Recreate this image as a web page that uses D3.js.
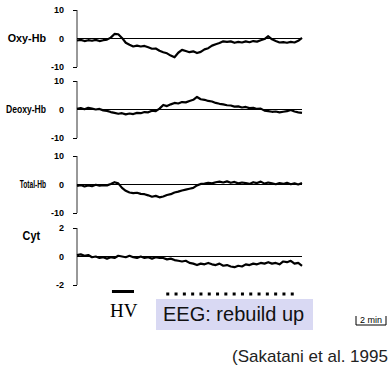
<!DOCTYPE html>
<html>
<head>
<meta charset="utf-8">
<script src="https://cdn.jsdelivr.net/npm/d3@7"></script>
<style>
  body { margin: 0; background: #fff; }
  svg { display: block; }
  .lab { font-family: "Liberation Sans", Arial, sans-serif; font-weight: bold; font-size: 9px; fill: #000; }
  .name { font-family: "Liberation Sans", Arial, sans-serif; font-weight: bold; font-size: 11px; fill: #000; }
</style>
</head>
<body>
<div id="chart"></div>
<script>
// time in minutes, one sample every 0.25 min
const times = d3.range(61).map(i => i * 0.25);

const oxyHb = [-0.7, -0.5, -0.9, -0.6, -0.8, -0.5, -0.9, -0.6, -0.4, 0.3, 1.6, 1.5, 0.2, -1.5, -2.2, -2.8,
  -2.5, -2.8, -2.6, -3.1, -3.6, -3.5, -4.3, -4.8, -5.2, -6.0, -6.6, -5.0, -4.0, -4.4, -4.8, -4.5,
  -5.1, -4.7, -3.8, -3.4, -2.5, -2.0, -1.6, -1.0, -1.2, -1.0, -1.5, -1.2, -1.4, -1.0, -1.3, -0.9,
  -1.1, -0.6, -0.2, 0.8, -0.3, -0.9, -1.4, -1.3, -1.5, -1.2, -1.4, -0.8, 0.2];

const deoxyHb = [0.2, 0.5, 0.1, 0.6, 0.3, 0.0, 0.2, -0.3, -0.5, -0.9, -1.2, -1.5, -1.3, -1.7, -1.4, -1.6,
  -1.2, -1.3, -0.9, -1.0, -0.4, -0.6, 0.3, 1.6, 1.2, 1.8, 2.3, 2.1, 2.6, 2.5, 3.0, 3.4,
  4.4, 3.6, 3.4, 3.0, 2.8, 2.3, 2.0, 1.8, 1.5, 1.4, 1.0, 1.1, 0.7, 0.9, 0.5, 0.6,
  0.2, 0.3, -0.4, -0.6, -0.8, -0.7, -1.0, -0.8, -0.6, -0.2, -0.7, -1.0, -1.2];

const totalHb = [-0.5, -0.2, -0.7, -0.3, -0.6, -0.1, -0.4, -0.2, -0.3, 0.2, 0.8, 0.4, -1.2, -2.2, -2.8, -3.0,
  -2.9, -3.3, -3.4, -3.8, -4.3, -4.0, -4.5, -4.2, -3.7, -3.4, -2.8, -2.5, -2.1, -1.8, -1.5, -1.2,
  -0.3, 0.2, 0.3, 0.6, 0.4, 0.8, 1.0, 0.7, 1.1, 0.6, 0.9, 0.4, 0.7, 0.5, 0.2, 0.8,
  0.5, 1.0, 0.3, 0.7, 0.4, 0.1, 0.5, 0.2, 0.6, 0.1, 0.4, 0.0, 0.5];

const cyt = [0.1, 0.15, 0.05, 0.1, -0.05, 0.0, -0.1, -0.05, -0.15, -0.05, -0.1, 0.05, 0.0, -0.05, 0.05, -0.05,
  -0.1, 0.0, -0.1, -0.05, -0.15, -0.05, -0.1, -0.1, -0.2, -0.15, -0.25, -0.3, -0.35, -0.3, -0.45, -0.5,
  -0.6, -0.5, -0.55, -0.45, -0.55, -0.6, -0.5, -0.65, -0.6, -0.7, -0.75, -0.65, -0.7, -0.55, -0.6, -0.5,
  -0.55, -0.45, -0.5, -0.4, -0.5, -0.45, -0.55, -0.35, -0.4, -0.3, -0.5, -0.45, -0.65];

const panelNames = ['Oxy-Hb', 'Deoxy-Hb', 'Total-Hb', 'Cyt'];
const panelSeries = [oxyHb, deoxyHb, totalHb, cyt];
const panelRanges = [10, 10, 10, 2];
const panelTicks = [['10', '0', '-10'], ['10', '0', '-10'], ['10', '0', '-10'], ['2', '0', '-2']];

const hvPeriod = [2.33, 3.8];     // minutes
const eegPeriod = [5.95, 14.8];   // minutes
const scaleBarMinutes = 2;

const width = 389, height = 379;
const svg = d3.select('#chart').append('svg')
  .attr('width', width)
  .attr('height', height);

const x = d3.scaleLinear().domain([0, 15]).range([77, 302]);
const panelTop = [10, 81, 156, 228];
const panelH = 57;
const nameSquash = [0.98, 0.78, 0.6, 0.9]; // horizontal squeeze of the panel names

const line = d3.line().x((d, i) => x(times[i])).y(d => d);

panelSeries.forEach((series, p) => {
  const r = panelRanges[p];
  const y = d3.scaleLinear().domain([-r, r]).range([panelTop[p] + panelH, panelTop[p]]);
  const g = svg.append('g');

  // y axis: plain vertical line with end stubs
  const axis = d3.axisLeft(y).tickValues([-r, r]).tickSize(4).tickFormat('');
  g.append('g').attr('transform', `translate(${x(0)},0)`).call(axis)
    .call(a => a.select('.domain').remove())
    .call(a => a.selectAll('line').attr('stroke', '#000'));
  g.append('line')
    .attr('x1', x(0)).attr('x2', x(0))
    .attr('y1', y(r)).attr('y2', y(-r))
    .attr('stroke', '#333').attr('stroke-width', 1);

  // zero reference line
  g.append('line')
    .attr('x1', x(0)).attr('x2', x(15))
    .attr('y1', y(0)).attr('y2', y(0))
    .attr('stroke', '#000').attr('stroke-width', 1.2);

  // tick labels
  [r, 0, -r].forEach((v, k) => {
    g.append('text').attr('class', 'lab')
      .attr('x', 64).attr('y', y(v) + 3)
      .attr('text-anchor', 'end')
      .text(panelTicks[p][k]);
  });

  // panel name
  const nx = p === 3 ? 40 : 46;
  const ny = (p === 3 ? y(0) - 20 : y(0)) + 3;
  g.append('text').attr('class', 'name')
    .attr('transform', `translate(${nx},${ny}) scale(${nameSquash[p]},1)`)
    .attr('text-anchor', 'end')
    .style('font-size', p === 3 ? '12px' : null)
    .text(panelNames[p]);

  // trace
  g.append('path')
    .datum(series.map(v => y(v)))
    .attr('d', line)
    .attr('fill', 'none')
    .attr('stroke', '#000')
    .attr('stroke-width', 2.2)
    .attr('stroke-linejoin', 'round');
});

// HV bar
svg.append('line')
  .attr('x1', x(hvPeriod[0])).attr('x2', x(hvPeriod[1]))
  .attr('y1', 291.5).attr('y2', 291.5)
  .attr('stroke', '#000').attr('stroke-width', 3);
svg.append('text')
  .attr('x', 110).attr('y', 317)
  .style('font-family', '"Liberation Serif", "Times New Roman", serif')
  .style('font-size', '19px')
  .text('HV');

// EEG dotted bar
svg.append('line')
  .attr('x1', x(eegPeriod[0])).attr('x2', x(eegPeriod[1]))
  .attr('y1', 294).attr('y2', 294)
  .attr('stroke', '#000').attr('stroke-width', 3)
  .attr('stroke-dasharray', '3,5.3');

svg.append('rect')
  .attr('x', 156).attr('y', 299)
  .attr('width', 157).attr('height', 31)
  .attr('fill', '#d9d9f3');
svg.append('text')
  .attr('x', 163).attr('y', 321)
  .style('font-family', '"Liberation Sans", Arial, sans-serif')
  .style('font-size', '20px')
  .attr('fill', '#111')
  .text('EEG: rebuild up');

// 2 min scale bar
const sbX = 356, sbW = x(scaleBarMinutes) - x(0);
svg.append('path')
  .attr('d', `M${sbX},316V325H${sbX + sbW}V316`)
  .attr('fill', 'none').attr('stroke', '#000').attr('stroke-width', 1);
svg.append('text')
  .attr('x', sbX + sbW / 2).attr('y', 323)
  .attr('text-anchor', 'middle')
  .style('font-family', '"Liberation Sans", Arial, sans-serif')
  .style('font-size', '9px')
  .text(scaleBarMinutes + ' min');

// citation (the source slide shows it clipped at the right edge)
svg.append('text')
  .attr('x', 232).attr('y', 362)
  .style('font-family', '"Liberation Sans", Arial, sans-serif')
  .style('font-size', '17px')
  .attr('fill', '#222')
  .text('(Sakatani et al. 1995');
</script>
</body>
</html>
